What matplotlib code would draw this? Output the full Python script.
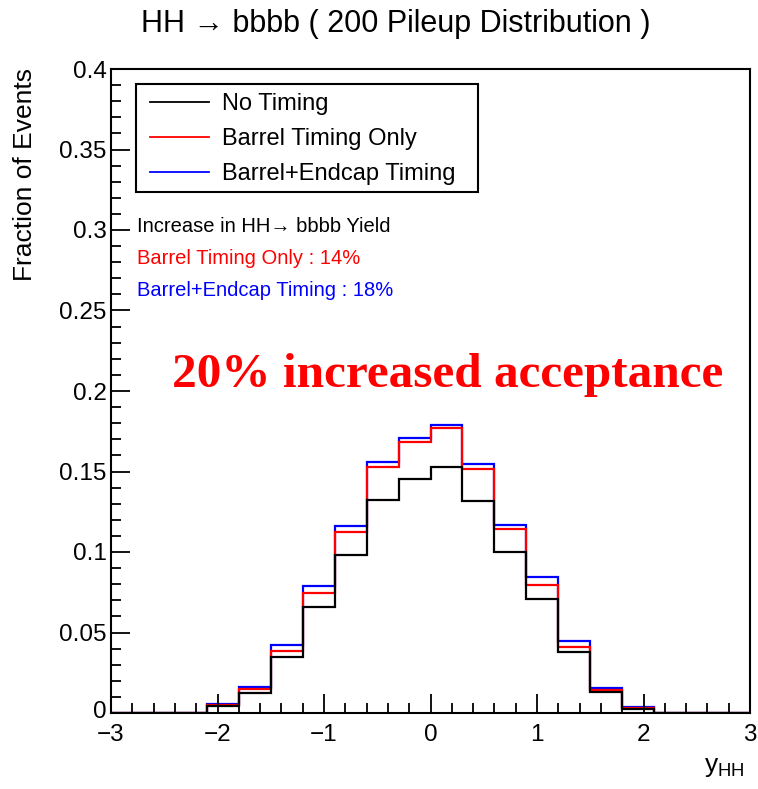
import numpy as np
import matplotlib
matplotlib.use("Agg")
import matplotlib.pyplot as plt
import matplotlib.transforms as mtransforms
from matplotlib.ticker import MultipleLocator, FuncFormatter
from matplotlib.lines import Line2D
from matplotlib.patches import Rectangle

plt.rcParams['font.family'] = ['Liberation Sans', 'DejaVu Sans']
plt.rcParams['mathtext.fontset'] = 'custom'
plt.rcParams['mathtext.rm'] = 'Liberation Sans'
plt.rcParams['mathtext.it'] = 'Liberation Sans'

# Data
bin_edges = np.round(np.arange(-3.0, 3.0001, 0.3), 2)
no_timing = [0, 0, 0, 0.0045, 0.0126, 0.035, 0.066, 0.098, 0.1325, 0.1456,
             0.1526, 0.1314, 0.100, 0.0711, 0.0379, 0.0129, 0.0023, 0, 0, 0]
barrel_only = [0, 0, 0, 0.005, 0.0147, 0.0384, 0.0745, 0.1122, 0.1528, 0.1686,
               0.1769, 0.1518, 0.1143, 0.0794, 0.0412, 0.0143, 0.003, 0, 0, 0]
barrel_endcap = [0, 0, 0, 0.0054, 0.016, 0.0421, 0.0786, 0.1159, 0.1557, 0.1705,
                 0.179, 0.1549, 0.117, 0.0844, 0.045, 0.0154, 0.0037, 0, 0, 0]
series_labels = ["No Timing", "Barrel Timing Only", "Barrel+Endcap Timing"]
series_colors = ["black", "#ff0000", "#0000ff"]

W, H = 758, 789
AX_L, AX_R, AX_T, AX_B = 111, 750, 69, 713
fig = plt.figure(figsize=(W / 100, H / 100), dpi=100)
ax = fig.add_axes([AX_L / W, 1 - AX_B / H, (AX_R - AX_L) / W, (AX_B - AX_T) / H])


def axfrac(x, y):
    return (x - AX_L) / (AX_R - AX_L), (AX_B - y) / (AX_B - AX_T)


def px(x, y):
    return x / W, 1 - y / H


lw = 1.6
ax.stairs(barrel_endcap, bin_edges, color=series_colors[2], lw=lw, baseline=0)
ax.stairs(barrel_only, bin_edges, color=series_colors[1], lw=lw, baseline=0)
ax.stairs(no_timing, bin_edges, color=series_colors[0], lw=lw, baseline=0)

ax.set_xlim(-3, 3)
ax.set_ylim(0, 0.4)
ax.xaxis.set_major_locator(MultipleLocator(1))
ax.xaxis.set_minor_locator(MultipleLocator(0.2))
ax.yaxis.set_major_locator(MultipleLocator(0.05))
ax.yaxis.set_minor_locator(MultipleLocator(0.01))
ax.yaxis.set_major_formatter(FuncFormatter(lambda v, p: "%g" % round(v, 3)))
ax.xaxis.set_major_formatter(FuncFormatter(lambda v, p: ("%g" % v).replace("-", "\u2212")))
ax.tick_params(which='both', direction='in', top=False, right=False, width=1.3,
               labelsize=17.5)
ax.tick_params(which='major', length=14)
ax.tick_params(which='minor', length=7)
ax.tick_params(axis='x', pad=8)
ax.tick_params(axis='y', pad=3)
for s in ax.spines.values():
    s.set_linewidth(1.5)

# nudge the y "0" label up a little so it does not collide with the x "-3" label
fig.canvas.draw()
for lab in ax.get_yticklabels():
    if lab.get_text() == "0":
        lab.set_transform(lab.get_transform() +
                          mtransforms.ScaledTranslation(0, 3 / 100, fig.dpi_scale_trans))

# legend frame (ROOT style box) and entries
x0, y0 = axfrac(136, 192)
x1, y1 = axfrac(478, 84)
ax.add_patch(Rectangle((x0, y0), x1 - x0, y1 - y0, transform=ax.transAxes,
                       fill=False, edgecolor='black', lw=1.5, zorder=5))
handles = [Line2D([], [], color=c, lw=1.3) for c in series_colors]
leg = ax.legend(handles, series_labels, loc='upper left',
                bbox_to_anchor=axfrac(150, 93),
                fontsize=17, frameon=False,
                borderpad=0, handlelength=2.5, handletextpad=0.55, labelspacing=0.55,
                borderaxespad=0)

fig.text(*px(137, 226), "Increase in HH\u2192 bbbb Yield", fontsize=14.5, va='center', ha='left', color='black')
fig.text(*px(137, 259), "Barrel Timing Only : 14%", fontsize=14.5, va='center', ha='left', color='#ff0000')
fig.text(*px(137, 291), "Barrel+Endcap Timing : 18%", fontsize=14.5, va='center', ha='left', color='#0000ff')
fig.text(*px(172, 375), "20% increased acceptance", fontsize=35.5, fontweight='bold',
         family='Liberation Serif', va='center', ha='left', color='#ff0000')

fig.text(*px(396, 24), "HH \u2192 bbbb ( 200 Pileup Distribution )", fontsize=22, ha='center', va='center')
fig.text(*px(25, 68), "Fraction of Events", fontsize=19, rotation=90, ha='center', va='top')
fig.text(*px(745, 772), r"y$_{\mathrm{HH}}$", fontsize=19, ha='right', va='baseline')

fig.savefig("out.png", dpi=100)
